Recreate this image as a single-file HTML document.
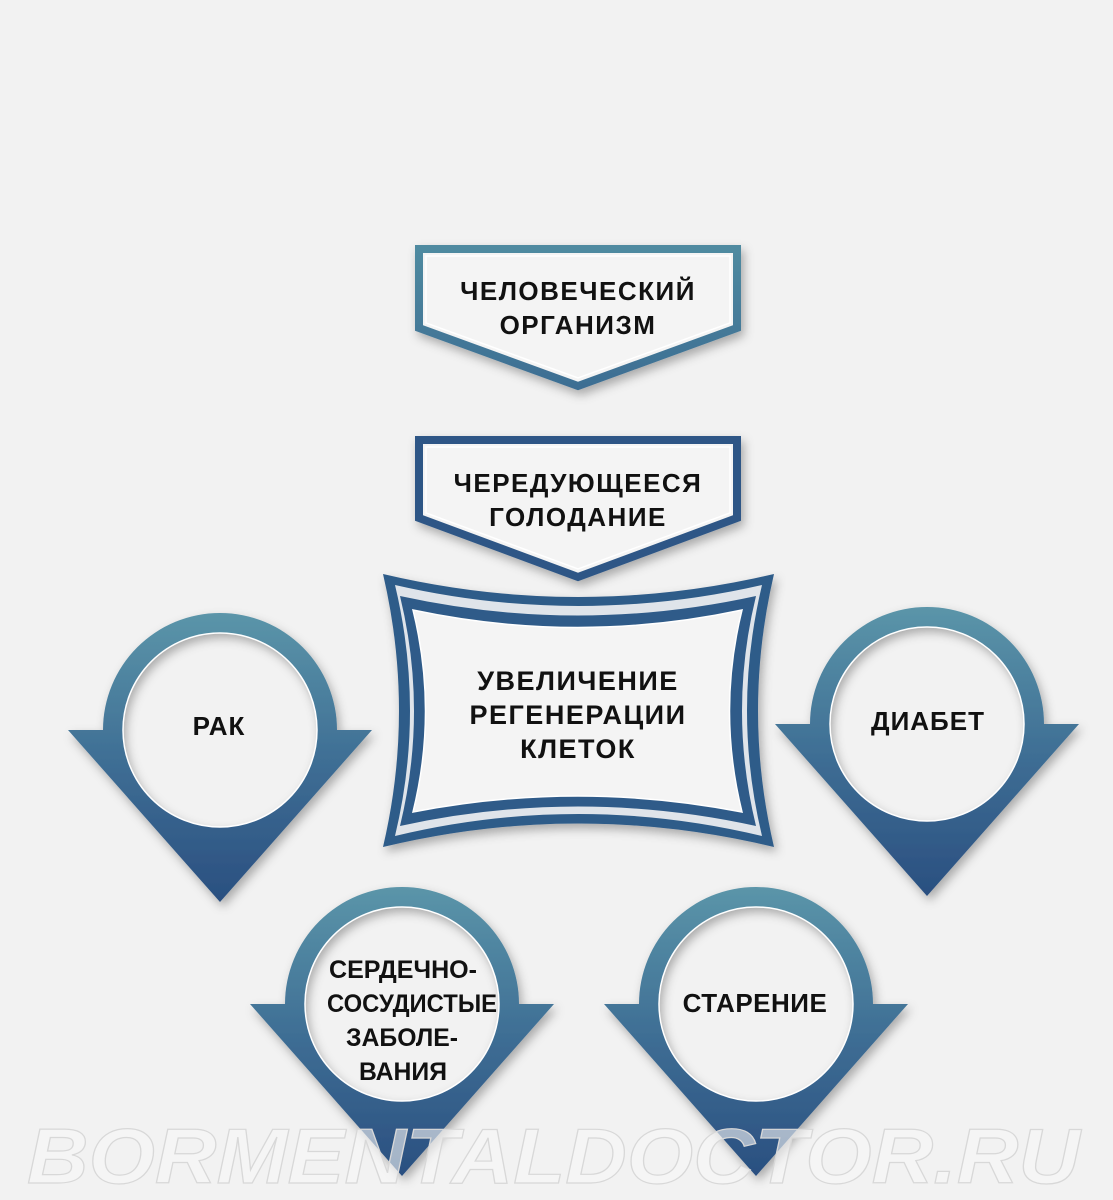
<!DOCTYPE html>
<html><head><meta charset="utf-8"><style>
html,body{margin:0;padding:0;background:#f2f2f2;}
svg{display:block;}
text{font-family:"Liberation Sans",Arial,sans-serif;font-weight:bold;fill:#111;}
</style></head><body>
<svg width="1113" height="1200" viewBox="0 0 1113 1200" xmlns="http://www.w3.org/2000/svg">
<defs>
<linearGradient id="g" x1="0" y1="0" x2="0" y2="1">
<stop offset="0" stop-color="#5b95a9"/><stop offset="0.5" stop-color="#3f6f95"/><stop offset="1" stop-color="#2a4f80"/>
</linearGradient>
<linearGradient id="gt" x1="0" y1="0" x2="0" y2="1">
<stop offset="0" stop-color="#4f8aa0"/><stop offset="1" stop-color="#3d6e93"/>
</linearGradient>
<filter id="sh" x="-20%" y="-20%" width="140%" height="140%">
<feDropShadow dx="3" dy="5" stdDeviation="5" flood-color="#000" flood-opacity="0.3"/>
</filter>
<path id="drop" fill-rule="evenodd" d="M-152 0 L-117 0 A117 117 0 0 1 117 0 L152 0 L0 172 Z M-97 0 A97 97 0 1 0 97 0 A97 97 0 1 0 -97 0 Z"/>
</defs>

<path d="M419 249 L737 249 L737 328 L578 386 L419 328 Z" fill="#f4f4f4" stroke="url(#gt)" stroke-width="8" filter="url(#sh)"/>
<path d="M426 256 L730 256 L730 323 L578 378 L426 323 Z" fill="none" stroke="#fff" stroke-width="1.5"/>
<text x="578" y="300" font-size="26" text-anchor="middle" letter-spacing="1.5">ЧЕЛОВЕЧЕСКИЙ</text>
<text x="578" y="334" font-size="26" text-anchor="middle" letter-spacing="1.5">ОРГАНИЗМ</text>

<path d="M419 440 L737 440 L737 518 L578 577 L419 518 Z" fill="#f4f4f4" stroke="#2e5786" stroke-width="8" filter="url(#sh)"/>
<path d="M426 447 L730 447 L730 513 L578 569 L426 513 Z" fill="none" stroke="#fff" stroke-width="1.5"/>
<text x="578" y="492" font-size="26" text-anchor="middle" letter-spacing="1.5">ЧЕРЕДУЮЩЕЕСЯ</text>
<text x="578" y="526" font-size="26" text-anchor="middle" letter-spacing="1.5">ГОЛОДАНИЕ</text>

<path d="M383 574 Q578 620 774 574 Q742 711 774 847 Q578 800 383 847 Q415 711 383 574 Z" fill="#2f5b89" filter="url(#sh)"/>
<path d="M395 585 Q578 627 762 585 Q732 711 762 836 Q578 792 395 836 Q425 711 395 585 Z" fill="#dfe4ea"/>
<path d="M400 596 Q578 635 756 596 Q728 711 756 826 Q578 787 400 826 Q428 711 400 596 Z" fill="#2f5b89"/>
<path d="M413 610 Q578 645 742 610 Q717 711 742 812 Q578 780 413 812 Q438 711 413 610 Z" fill="#f4f4f4" stroke="#fff" stroke-width="1.5"/>
<text x="578" y="690" font-size="27" text-anchor="middle" letter-spacing="1.5">УВЕЛИЧЕНИЕ</text>
<text x="578" y="724" font-size="27" text-anchor="middle" letter-spacing="1.5">РЕГЕНЕРАЦИИ</text>
<text x="578" y="758" font-size="27" text-anchor="middle" letter-spacing="1.5">КЛЕТОК</text>

<use href="#drop" transform="translate(220,730)" fill="url(#g)" filter="url(#sh)"/>
<use href="#drop" transform="translate(927,724)" fill="url(#g)" filter="url(#sh)"/>
<use href="#drop" transform="translate(402,1004)" fill="url(#g)" filter="url(#sh)"/>
<use href="#drop" transform="translate(756,1004)" fill="url(#g)" filter="url(#sh)"/>
<circle cx="220" cy="730" r="97" fill="none" stroke="#fff" stroke-width="1.5"/>
<circle cx="927" cy="724" r="97" fill="none" stroke="#fff" stroke-width="1.5"/>
<circle cx="402" cy="1004" r="97" fill="none" stroke="#fff" stroke-width="1.5"/>
<circle cx="756" cy="1004" r="97" fill="none" stroke="#fff" stroke-width="1.5"/>

<text x="219" y="735" font-size="26" text-anchor="middle" letter-spacing="1">РАК</text>
<text x="928" y="730" font-size="26" text-anchor="middle" letter-spacing="1">ДИАБЕТ</text>
<text x="755" y="1012" font-size="26" text-anchor="middle" letter-spacing="0.5">СТАРЕНИЕ</text>
<text x="403" y="978" font-size="25" text-anchor="middle" textLength="148" lengthAdjust="spacingAndGlyphs">СЕРДЕЧНО-</text>
<text x="412" y="1012" font-size="25" text-anchor="middle" textLength="170" lengthAdjust="spacingAndGlyphs">СОСУДИСТЫЕ</text>
<text x="402" y="1046" font-size="25" text-anchor="middle" textLength="112" lengthAdjust="spacingAndGlyphs">ЗАБОЛЕ-</text>
<text x="403" y="1080" font-size="25" text-anchor="middle" textLength="88" lengthAdjust="spacingAndGlyphs">ВАНИЯ</text>

<text x="27" y="1183" font-size="78" font-style="italic" textLength="1053" lengthAdjust="spacingAndGlyphs" style="fill:#f7f7f7;fill-opacity:0.6;stroke:#d8d8d8;stroke-width:1.2;">BORMENTALDOCTOR.RU</text>
</svg>
</body></html>
